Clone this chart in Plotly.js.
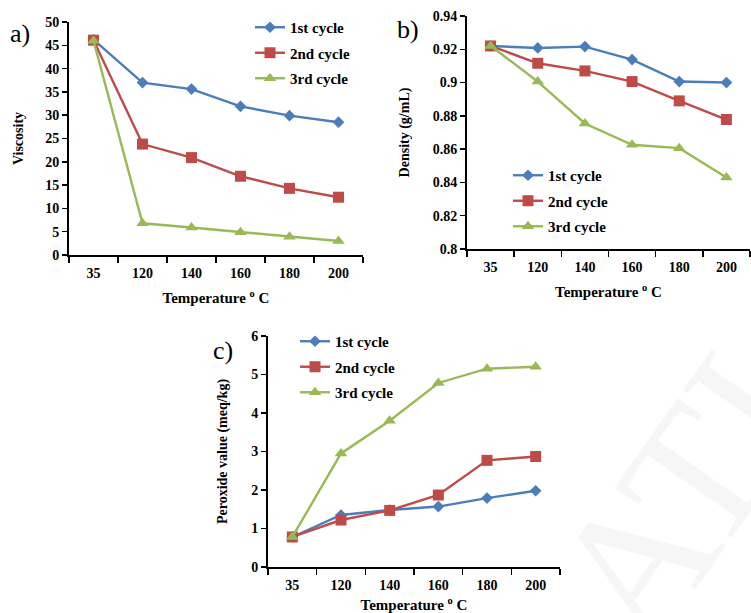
<!DOCTYPE html>
<html><head><meta charset="utf-8">
<script src="https://cdn.plot.ly/plotly-3.0.1.min.js"></script>
<style>html,body{margin:0;padding:0;background:#fff;}#chart{width:751px;height:613px;}</style>
</head><body><div id="chart"></div>
<script>
const temps = ["35","120","140","160","180","200"];
const seriesNames = ["1st cycle","2nd cycle","3rd cycle"];
const viscosity1 = [46.2, 37.0, 35.6, 31.9, 29.9, 28.5];
const viscosity2 = [46.1, 23.8, 20.9, 16.9, 14.3, 12.4];
const viscosity3 = [46.0, 6.8, 5.9, 4.9, 3.9, 3.0];
const density1 = [0.922, 0.9208, 0.9216, 0.9138, 0.9006, 0.900];
const density2 = [0.922, 0.9116, 0.907, 0.9006, 0.889, 0.8778];
const density3 = [0.922, 0.9006, 0.8754, 0.8626, 0.8606, 0.843];
const peroxide1 = [0.78, 1.35, 1.48, 1.57, 1.79, 1.98];
const peroxide2 = [0.78, 1.22, 1.47, 1.87, 2.77, 2.87];
const peroxide3 = [0.78, 2.95, 3.80, 4.78, 5.15, 5.20];

const colors = ["#4A7EBB","#BE4B48","#98B954"];
const symbols = ["diamond","square","triangle-up"];
const msizes = [9, 11, 11];
const W = 751, H = 613;
const FONT = "Liberation Serif, Times New Roman, serif";

function px(x){return x/W;}
function py(y){return 1 - y/H;}

const panels = [
  {vals:[viscosity1,viscosity2,viscosity3], xa:"x", ya:"y", leg:"legend"},
  {vals:[density1,density2,density3], xa:"x2", ya:"y2", leg:"legend2"},
  {vals:[peroxide1,peroxide2,peroxide3], xa:"x3", ya:"y3", leg:"legend3"}
];
const traces = [];
panels.forEach((p,pi)=>{
  p.vals.forEach((v,i)=>{
    traces.push({
      type:"scatter", mode:"lines+markers", x:temps, y:v, name:seriesNames[i],
      xaxis:p.xa, yaxis:p.ya, legend:p.leg, legendgroup:"g"+pi+"_"+i,
      line:{color:colors[i], width:2.4},
      marker:{symbol:symbols[i], size:msizes[i], color:colors[i]},
      cliponaxis:false
    });
  });
});

function xaxis(dom, anchor){
  return {domain:dom, anchor:anchor, type:"category", range:[-0.5,5.5],
    showline:true, linecolor:"#000", linewidth:2, ticks:"outside", tickson:"boundaries",
    ticklen:6, tickwidth:1.5, tickcolor:"#000", showgrid:false, zeroline:false,
    ticklabelstandoff:4,
    tickfont:{family:FONT, size:14, color:"#000", weight:"bold"},
    title:{text:"Temperature <sup>o</sup> C", font:{family:FONT, size:15, color:"#000", weight:"bold"}, standoff:13}};
}
function yaxis(dom, anchor, range, dtick, title, standoff){
  return {domain:dom, anchor:anchor, range:range, dtick:dtick, tick0:range[0],
    showline:true, linecolor:"#000", linewidth:2, ticks:"outside", ticklen:5, tickwidth:1.5,
    tickcolor:"#000", showgrid:false, zeroline:false,
    tickfont:{family:FONT, size:14, color:"#000", weight:"bold"},
    title:{text:title, font:{family:FONT, size:14, color:"#000", weight:"bold"}, standoff:standoff}};
}
function legend(x, y){
  return {x:x, y:y, xanchor:"left", yanchor:"top", bgcolor:"rgba(0,0,0,0)",
    font:{family:FONT, size:15, color:"#000", weight:"bold"}, tracegroupgap:3, itemwidth:30};
}

const layout = {
  width:W, height:H, margin:{l:0,r:0,t:0,b:0}, paper_bgcolor:"#fff", plot_bgcolor:"rgba(0,0,0,0)",
  showlegend:true,
  xaxis: xaxis([px(69), px(363)], "y"),
  yaxis: yaxis([py(255), py(22)], "x", [0,50], 5, "Viscosity", 18),
  xaxis2: xaxis([px(467), px(750)], "y2"),
  yaxis2: yaxis([py(249), py(16)], "x2", [0.8,0.94], 0.02, "Density (g/mL)", 20),
  xaxis3: xaxis([px(268), px(560)], "y3"),
  yaxis3: yaxis([py(567), py(336)], "x3", [0,6], 1, "Peroxide value (meq/kg)", 20),
  legend: legend(px(250), py(11)),
  legend2: legend(px(508), py(159)),
  legend3: legend(px(295), py(325)),
  annotations:[
    {text:"a)", xref:"paper", yref:"paper", x:px(8), y:py(33), xanchor:"left", yanchor:"middle", showarrow:false, font:{family:FONT, size:26, color:"#000"}},
    {text:"b)", xref:"paper", yref:"paper", x:px(395), y:py(30), xanchor:"left", yanchor:"middle", showarrow:false, font:{family:FONT, size:26, color:"#000"}},
    {text:"c)", xref:"paper", yref:"paper", x:px(211), y:py(350), xanchor:"left", yanchor:"middle", showarrow:false, font:{family:FONT, size:26, color:"#000"}},
    {text:"ATI", xref:"paper", yref:"paper", x:px(680), y:py(500), xanchor:"center", yanchor:"middle", showarrow:false, textangle:-55, font:{family:FONT, size:190, color:"rgba(225,225,225,0.3)"}}
  ]
};
Plotly.newPlot("chart", traces, layout, {displayModeBar:false, staticPlot:true});
</script>
</body></html>
